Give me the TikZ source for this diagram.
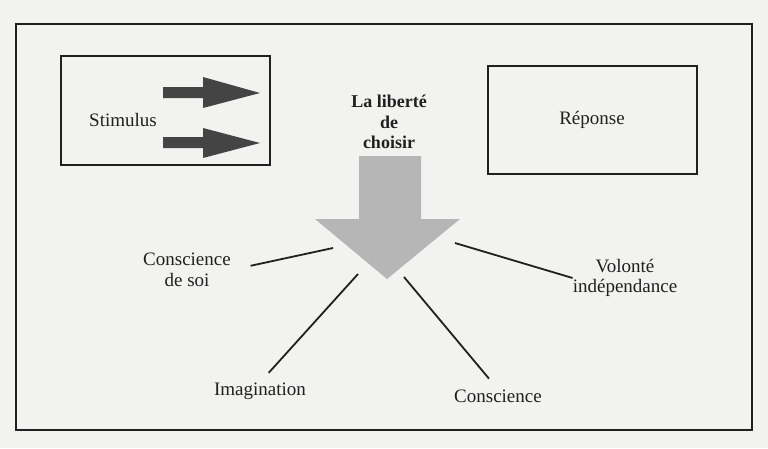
\documentclass[tikz,border=0pt]{standalone}
\usepackage{fontspec}
\setmainfont{Liberation Serif}
\usetikzlibrary{positioning}
\definecolor{ink}{RGB}{32,32,32}
\definecolor{paper}{RGB}{242,242,240}
\definecolor{bigarrow}{RGB}{182,182,182}
\definecolor{smallarrow}{RGB}{68,68,68}

\begin{document}
\begin{tikzpicture}[x=1pt,y=-1pt,
    lbl/.style={font=\fontsize{19}{20.5}\selectfont, align=center, inner sep=0pt, text=ink},
    box/.style={draw=ink, line width=2pt},
    spoke/.style={draw=ink, line width=1.8pt}]
        % page and frame
        \fill [paper] (0,0) rectangle (768,448);
        \useasboundingbox (0,0) rectangle (768,448);
        \draw [box] (16,24) rectangle (752,430);
        % stimulus
        \draw [box] (61,56) rectangle (270,165);
        \node [lbl] (stim) at (123,120) {Stimulus};
        \fill [smallarrow] (163,87) -- (203,87) -- (203,77) -- (260,93) -- (203,108) -- (203,98) -- (163,98) -- cycle;
        \fill [smallarrow] (163,137) -- (203,137) -- (203,128) -- (260,143) -- (203,158) -- (203,148) -- (163,148) -- cycle;
        % reponse
        \node [box, minimum width=209pt, minimum height=108pt, lbl] (rep) at (592,120) {R\'eponse};
        % choice
        \node [lbl, font=\fontsize{18}{20.5}\selectfont\bfseries] (choix) at (389,122) {La libert\'e\\de\\choisir};
        \fill [bigarrow] (359,156) -- (421,156) -- (421,219) -- (460,219) -- (387,279) -- (315,219) -- (359,219) -- cycle;
        \coordinate (soiend) at (333,248);
        \coordinate (imagend) at (358,274);
        \coordinate (consend) at (404,277);
        \coordinate (volend) at (455,243);
        % labels round the arrow
        \node [lbl] (soi) at (187,270) {Conscience\\de soi};
        \node [lbl] (imag) at (260,391) {Imagination};
        \node [lbl] (cons) at (498,396) {Conscience};
        \node [lbl] (vol) at (625,278) {Volont\'e\\ind\'ependance};
        \draw [spoke, shorten <=20pt] (soi.east) -- (soiend);
        \draw [spoke, shorten <=13pt] (imag.north) -- (imagend);
        \draw [spoke, shorten <=14pt] (cons.north) -- (consend);
        \draw [spoke] (vol.west) -- (volend);
\end{tikzpicture}
\end{document}
